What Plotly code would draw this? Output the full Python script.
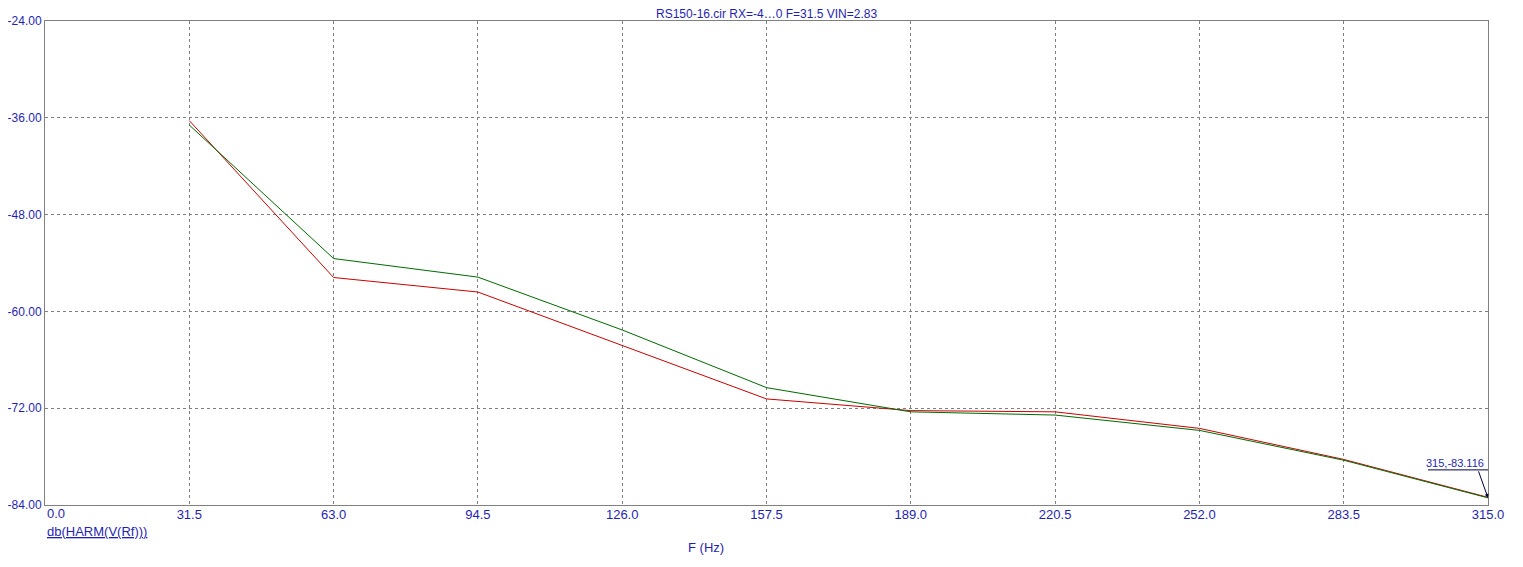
import plotly.graph_objects as go

freq = [31.5, 63.0, 94.5, 126.0, 157.5, 189.0, 220.5, 252.0, 283.5, 315.0]
red_db = [-36.35, -55.8, -57.6, -64.2, -70.85, -72.3, -72.45, -74.5, -78.35, -83.05]
green_db = [-36.9, -53.45, -55.75, -62.3, -69.45, -72.45, -72.85, -74.75, -78.45, -83.116]

x_ticks = [0.0, 31.5, 63.0, 94.5, 126.0, 157.5, 189.0, 220.5, 252.0, 283.5, 315.0]
x_ticktext = ["0.0", "31.5", "63.0", "94.5", "126.0", "157.5", "189.0", "220.5", "252.0", "283.5", "315.0"]
y_ticks = [-84, -72, -60, -48, -36, -24]
y_ticktext = ["-84.00", "-72.00", "-60.00", "-48.00", "-36.00", "-24.00"]

title_text = "RS150-16.cir RX=-4…0 F=31.5 VIN=2.83"
y_label = "db(HARM(V(Rf)))"
x_label = "F (Hz)"
cursor_x, cursor_y = 315.0, -83.116

BLUE = "#1f1fb4"
FONT = "Liberation Sans, Arial, sans-serif"

fig = go.Figure()
fig.add_trace(go.Scatter(x=freq, y=red_db, mode="lines",
                         line=dict(color="#cc0000", width=1), showlegend=False))
fig.add_trace(go.Scatter(x=freq, y=green_db, mode="lines",
                         line=dict(color="#006a00", width=1), showlegend=False))

axis_common = dict(showline=True, linecolor="#808080", linewidth=1, mirror=True,
                   showgrid=True, gridcolor="#808080", griddash="3px,3px", gridwidth=1,
                   zeroline=False, ticks="", automargin=False)

# first x label ("0.0") is drawn left-aligned at the axis origin, as in the reference
shown_x_text = [""] + x_ticktext[1:]

fig.update_layout(
    width=1507, height=551,
    margin=dict(l=37, r=27, t=13, b=54),
    paper_bgcolor="white", plot_bgcolor="white",
    font=dict(family=FONT, size=12, color=BLUE),
    xaxis=dict(range=[0, 315], tickmode="array", tickvals=x_ticks, ticktext=shown_x_text,
               ticklabelstandoff=-3, tickfont=dict(family=FONT, size=13, color=BLUE),
               **axis_common),
    yaxis=dict(range=[-84, -24], tickmode="array", tickvals=y_ticks, ticktext=y_ticktext,
               ticklabelstandoff=0, tickfont=dict(family=FONT, size=12, color=BLUE),
               **axis_common),
    annotations=[
        dict(text=title_text, x=0.5, xref="paper", y=1, yref="paper", yshift=15,
             showarrow=False, font=dict(family=FONT, size=12, color=BLUE),
             xanchor="center", yanchor="top", borderpad=0),
        dict(text=x_ticktext[0], x=x_ticks[0], xref="x", y=0, yref="paper", yshift=-8,
             xshift=1, showarrow=False, font=dict(family=FONT, size=13, color=BLUE),
             xanchor="left", yanchor="middle", borderpad=0),
        dict(text="<u>" + y_label + "</u>", x=0, xref="paper", y=0, yref="paper", yshift=-26,
             showarrow=False, font=dict(family=FONT, size=13, color=BLUE),
             xanchor="left", yanchor="middle"),
        dict(text=x_label, x=0.458, xref="paper", y=0, yref="paper", yshift=-42,
             showarrow=False, font=dict(family=FONT, size=13, color=BLUE),
             xanchor="center", yanchor="middle"),
        dict(text=f"{cursor_x:g},{cursor_y:.3f}", x=cursor_x, y=cursor_y, xref="x", yref="y",
             xshift=-3, yshift=28, showarrow=False, font=dict(family=FONT, size=11, color=BLUE),
             xanchor="right", yanchor="bottom", borderpad=0),
        dict(text="", x=cursor_x, y=cursor_y, xref="x", yref="y",
             ax=-10, ay=-28, showarrow=True, arrowhead=2, arrowsize=0.8, arrowwidth=1,
             arrowcolor="#000040"),
    ],
)
fig.add_shape(type="line", xref="x", yref="y", x0=301.9, x1=315,
              y0=cursor_y + 3.47, y1=cursor_y + 3.47, line=dict(color="#000040", width=1))

fig.write_html("out.html")
